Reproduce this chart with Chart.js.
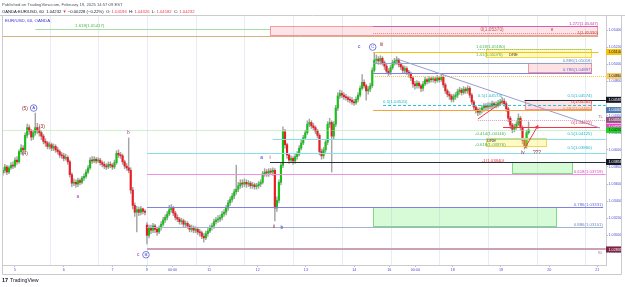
<!DOCTYPE html>
<html>
<head>
<meta charset="utf-8">
<title>EUR/USD 60 - OANDA</title>
<script src="https://cdn.jsdelivr.net/npm/chart.js@4.4.1/dist/chart.umd.min.js"></script>
<style>
  html, body { margin: 0; padding: 0; background: #fff; }
  canvas { display: block; }
</style>
</head>
<body>
<canvas id="chart" width="625" height="287"></canvas>
<script>
// hourly candles, weekends removed; hour 0 = Feb 5 00:00 (EST)
const firstHour = -6;

const opens = [
  1.0373,1.0376,1.0380,1.0374,1.0379,1.0382,1.0381,1.0388,1.0386,1.0398,
  1.0402,1.0400,1.0417,1.0426,1.0422,1.0415,1.0420,1.0426,1.0423,1.0420,
  1.0416,1.0410,1.0408,1.0404,1.0406,1.0402,1.0404,1.0400,1.0398,1.0394,
  1.0393,1.0390,1.0391,1.0386,1.0371,1.0361,1.0362,1.0360,1.0364,1.0362,
  1.0367,1.0369,1.0374,1.0379,1.0388,1.0387,1.0389,1.0387,1.0388,1.0385,
  1.0383,1.0381,1.0380,1.0383,1.0382,1.0380,1.0385,1.0396,1.0394,1.0393,
  1.0386,1.0381,1.0379,1.0376,1.0353,1.0335,1.0327,1.0330,1.0327,1.0331,
  1.0328,
  1.0312,1.0300,1.0309,1.0306,1.0311,1.0307,1.0304,1.0309,1.0313,1.0318,
  1.0321,1.0325,1.0330,1.0332,1.0326,1.0321,1.0319,1.0316,1.0317,1.0313,
  1.0314,1.0311,1.0307,1.0309,1.0306,1.0307,1.0304,1.0303,1.0299,1.0297,
  1.0302,1.0305,1.0309,1.0311,1.0316,1.0318,1.0319,1.0321,1.0325,1.0327,
  1.0332,1.0338,1.0342,1.0346,1.0351,1.0354,1.0358,1.0361,1.0360,1.0362,
  1.0360,1.0361,1.0358,1.0359,1.0357,1.0358,1.0360,1.0362,1.0372,1.0374,
  1.0373,1.0375,1.0374,1.0376,1.0332,1.0341,1.0362,1.0382,1.0421,1.0406,
  1.0394,1.0388,1.0390,1.0387,1.0392,1.0395,1.0402,1.0408,1.0414,1.0420,
  1.0430,1.0432,1.0428,1.0426,1.0422,1.0417,1.0398,1.0393,1.0400,1.0409,
  1.0430,1.0432,1.0416,1.0430,1.0449,1.0463,1.0466,1.0464,1.0462,1.0461,
  1.0459,1.0458,1.0456,1.0455,1.0459,1.0464,1.0472,1.0479,1.0475,1.0469,
  1.0471,1.0475,1.0493,1.0505,1.0506,1.0504,1.0507,1.0502,1.0498,1.0492,
  1.0491,1.0496,1.0502,1.0504,1.0505,1.0500,1.0497,1.0493,1.0495,1.0491,
  1.0489,1.0484,1.0477,1.0475,1.0478,1.0475,1.0472,1.0477,1.0482,1.0480,
  1.0483,1.0482,1.0483,1.0481,1.0484,1.0482,1.0485,1.0476,1.0469,1.0465,
  1.0463,1.0459,1.0462,1.0464,1.0468,1.0470,1.0467,1.0471,1.0469,1.0472,
  1.0464,1.0456,1.0450,1.0447,1.0444,1.0446,1.0449,1.0451,1.0450,1.0452,
  1.0451,1.0454,1.0452,1.0453,1.0455,1.0456,1.0457,1.0454,1.0448,1.0437,
  1.0429,1.0424,1.0427,1.0430,1.0437,1.0426,1.0411,1.0404,1.0420
];
const highs = [
  1.0379,1.0383,1.0382,1.0381,1.0385,1.0386,1.0391,1.0392,1.0400,1.0406,
  1.0405,1.0420,1.0430,1.0429,1.0424,1.0423,1.0443,1.0431,1.0427,1.0422,
  1.0418,1.0413,1.0410,1.0409,1.0408,1.0407,1.0406,1.0403,1.0400,1.0397,
  1.0396,1.0395,1.0393,1.0388,1.0373,1.0366,1.0365,1.0367,1.0366,1.0369,
  1.0372,1.0377,1.0382,1.0391,1.0392,1.0392,1.0391,1.0391,1.0390,1.0387,
  1.0386,1.0384,1.0386,1.0386,1.0384,1.0388,1.0399,1.0400,1.0397,1.0395,
  1.0388,1.0384,1.0414,1.0379,1.0356,1.0338,1.0334,1.0333,1.0334,1.0332,
  1.0330,
  1.0315,1.0312,1.0312,1.0314,1.0313,1.0309,1.0311,1.0316,1.0321,1.0324,
  1.0328,1.0335,1.0336,1.0334,1.0328,1.0324,1.0321,1.0320,1.0319,1.0317,
  1.0316,1.0313,1.0312,1.0311,1.0310,1.0309,1.0307,1.0305,1.0302,1.0305,
  1.0308,1.0312,1.0314,1.0319,1.0321,1.0323,1.0324,1.0328,1.0330,1.0335,
  1.0341,1.0345,1.0349,1.0354,1.0382,1.0362,1.0365,1.0365,1.0366,1.0365,
  1.0364,1.0363,1.0362,1.0361,1.0361,1.0363,1.0365,1.0375,1.0378,1.0377,
  1.0378,1.0378,1.0379,1.0378,1.0345,1.0365,1.0385,1.0427,1.0424,1.0408,
  1.0396,1.0393,1.0392,1.0395,1.0398,1.0405,1.0411,1.0417,1.0423,1.0434,
  1.0436,1.0434,1.0431,1.0428,1.0424,1.0419,1.0401,1.0403,1.0412,1.0433,
  1.0437,1.0434,1.0433,1.0452,1.0467,1.0470,1.0469,1.0467,1.0465,1.0463,
  1.0462,1.0461,1.0459,1.0462,1.0467,1.0475,1.0488,1.0482,1.0477,1.0474,
  1.0478,1.0496,1.0513,1.0511,1.0509,1.0510,1.0509,1.0504,1.0500,1.0495,
  1.0499,1.0505,1.0507,1.0509,1.0507,1.0502,1.0499,1.0498,1.0497,1.0493,
  1.0491,1.0486,1.0480,1.0481,1.0480,1.0477,1.0480,1.0485,1.0484,1.0486,
  1.0485,1.0486,1.0485,1.0487,1.0486,1.0489,1.0487,1.0478,1.0471,1.0468,
  1.0465,1.0465,1.0467,1.0471,1.0473,1.0472,1.0474,1.0473,1.0475,1.0474,
  1.0466,1.0458,1.0452,1.0449,1.0449,1.0452,1.0454,1.0454,1.0455,1.0455,
  1.0457,1.0456,1.0456,1.0458,1.0459,1.0461,1.0460,1.0456,1.0450,1.0439,
  1.0431,1.0430,1.0433,1.0442,1.0439,1.0428,1.0413,1.0423,1.04326
];
const lows = [
  1.0370,1.0373,1.0371,1.0372,1.0377,1.0378,1.0379,1.0383,1.0384,1.0395,
  1.0394,1.0398,1.0414,1.0418,1.0411,1.0412,1.0417,1.0419,1.0416,1.0412,
  1.0407,1.0404,1.0401,1.0401,1.0399,1.0399,1.0397,1.0395,1.0391,1.0390,
  1.0387,1.0388,1.0383,1.0368,1.0357,1.0358,1.0356,1.0357,1.0359,1.0360,
  1.0364,1.0367,1.0372,1.0377,1.0384,1.0385,1.0384,1.0385,1.0382,1.0380,
  1.0378,1.0377,1.0378,1.0379,1.0377,1.0378,1.0383,1.0391,1.0390,1.0383,
  1.0378,1.0376,1.0373,1.0349,1.0331,1.0322,1.0304,1.0323,1.0324,1.0325,
  1.0324,
  1.0290,1.0297,1.0302,1.0303,1.0303,1.0300,1.0302,1.0306,1.0311,1.0315,
  1.0318,1.0323,1.0327,1.0323,1.0318,1.0316,1.0313,1.0313,1.0310,1.0310,
  1.0308,1.0304,1.0304,1.0303,1.0303,1.0301,1.0299,1.0296,1.0292,1.0295,
  1.0299,1.0303,1.0306,1.0308,1.0313,1.0315,1.0316,1.0318,1.0322,1.0324,
  1.0329,1.0335,1.0339,1.0343,1.0348,1.0351,1.0355,1.0356,1.0357,1.0356,
  1.0357,1.0355,1.0355,1.0354,1.0354,1.0355,1.0357,1.0360,1.0369,1.0369,
  1.0369,1.0371,1.0370,1.0317,1.0328,1.0338,1.0359,1.0379,1.0402,1.0390,
  1.0384,1.0385,1.0383,1.0384,1.0389,1.0393,1.0400,1.0406,1.0412,1.0418,
  1.0427,1.0425,1.0423,1.0419,1.0414,1.0394,1.0389,1.0390,1.0397,1.0406,
  1.0426,1.0374,1.0413,1.0427,1.0446,1.0460,1.0461,1.0459,1.0458,1.0456,
  1.0455,1.0453,1.0452,1.0453,1.0456,1.0462,1.0470,1.0472,1.0458,1.0465,
  1.0468,1.0473,1.0491,1.0502,1.0500,1.0500,1.0499,1.0494,1.0489,1.0487,
  1.0488,1.0494,1.0499,1.0500,1.0497,1.0494,1.0490,1.0490,1.0488,1.0485,
  1.0481,1.0473,1.0471,1.0472,1.0472,1.0468,1.0469,1.0475,1.0477,1.0478,
  1.0479,1.0479,1.0478,1.0479,1.0479,1.0480,1.0473,1.0466,1.0462,1.0459,
  1.0456,1.0456,1.0459,1.0461,1.0465,1.0464,1.0465,1.0466,1.0466,1.0461,
  1.0453,1.0447,1.0443,1.0440,1.0441,1.0443,1.0445,1.0447,1.0446,1.0448,
  1.0448,1.0449,1.0449,1.0450,1.0452,1.0453,1.0451,1.0445,1.0433,1.0425,
  1.0420,1.0421,1.0424,1.0428,1.0423,1.0407,1.0401,1.0402,1.04182
];
const closes = [
  1.0376,1.0380,1.0374,1.0379,1.0382,1.0381,1.0388,1.0386,1.0398,1.0402,
  1.0400,1.0417,1.0426,1.0422,1.0415,1.0420,1.0426,1.0423,1.0420,1.0416,
  1.0410,1.0408,1.0404,1.0406,1.0402,1.0404,1.0400,1.0398,1.0394,1.0393,
  1.0390,1.0391,1.0386,1.0371,1.0361,1.0362,1.0360,1.0364,1.0362,1.0367,
  1.0369,1.0374,1.0379,1.0388,1.0387,1.0389,1.0387,1.0388,1.0385,1.0383,
  1.0381,1.0380,1.0383,1.0382,1.0380,1.0385,1.0396,1.0394,1.0393,1.0386,
  1.0381,1.0379,1.0376,1.0353,1.0335,1.0327,1.0330,1.0327,1.0331,1.0328,
  1.0327,
  1.0300,1.0309,1.0306,1.0311,1.0307,1.0304,1.0309,1.0313,1.0318,1.0321,
  1.0325,1.0330,1.0332,1.0326,1.0321,1.0319,1.0316,1.0317,1.0313,1.0314,
  1.0311,1.0307,1.0309,1.0306,1.0307,1.0304,1.0303,1.0299,1.0297,1.0302,
  1.0305,1.0309,1.0311,1.0316,1.0318,1.0319,1.0321,1.0325,1.0327,1.0332,
  1.0338,1.0342,1.0346,1.0351,1.0354,1.0358,1.0361,1.0360,1.0362,1.0360,
  1.0361,1.0358,1.0359,1.0357,1.0358,1.0360,1.0362,1.0372,1.0374,1.0373,
  1.0375,1.0374,1.0376,1.0332,1.0341,1.0362,1.0382,1.0421,1.0406,1.0394,
  1.0388,1.0390,1.0387,1.0392,1.0395,1.0402,1.0408,1.0414,1.0420,1.0430,
  1.0432,1.0428,1.0426,1.0422,1.0417,1.0398,1.0393,1.0400,1.0409,1.0430,
  1.0432,1.0416,1.0430,1.0449,1.0463,1.0466,1.0464,1.0462,1.0461,1.0459,
  1.0458,1.0456,1.0455,1.0459,1.0464,1.0472,1.0479,1.0475,1.0469,1.0471,
  1.0475,1.0493,1.0505,1.0506,1.0504,1.0507,1.0502,1.0498,1.0492,1.0490,
  1.0496,1.0502,1.0504,1.0505,1.0500,1.0497,1.0493,1.0495,1.0491,1.0489,
  1.0484,1.0477,1.0475,1.0478,1.0475,1.0472,1.0477,1.0482,1.0480,1.0483,
  1.0482,1.0483,1.0481,1.0484,1.0482,1.0485,1.0476,1.0469,1.0465,1.0463,
  1.0459,1.0462,1.0464,1.0468,1.0470,1.0467,1.0471,1.0469,1.0472,1.0464,
  1.0456,1.0450,1.0447,1.0444,1.0446,1.0449,1.0451,1.0450,1.0452,1.0451,
  1.0454,1.0452,1.0453,1.0455,1.0456,1.0457,1.0454,1.0448,1.0437,1.0429,
  1.0424,1.0427,1.0430,1.0437,1.0426,1.0411,1.0404,1.0420,1.04232
];

// axis labels
const dateTickHour = [0, 24, 48, 64.9, 77.6, 95.6, 119.6, 143.3, 167.1, 184.4, 197.2, 215.6, 239.4, 263.2, 286.8];
const dateTickText = ['5', '6', '7', '9', '00:00', '11', '12', '13', '14', '16', '00:00', '18', '19', '20', '21'];
const sessionGridHour = [17, 41, 65, 89, 113, 137, 161, 185, 209, 233, 257, 281];
const priceTicks = [1.028, 1.030, 1.032, 1.034, 1.036, 1.038, 1.040, 1.042, 1.044, 1.046, 1.048, 1.050, 1.052, 1.054];

// horizontal levels drawn on the chart
const levelPrice = [1.05417, 1.05330, 1.05447, 1.05370, 1.05180, 1.05144, 1.05018, 1.04897, 1.04864, 1.04520,
                    1.04585, 1.04465, 1.04350, 1.04272, 1.04232, 1.04125, 1.03960, 1.03858, 1.03719, 1.03331,
                    1.03101, 1.02835];
const levelFrom  = [10, -6.2, 176.4, 176.4, 228, 176.4, 176.4, 176.4, 176.4, 181.3,
                    251, 176.4, 228, 240.4, -6.2, 127, 65, 125.6, 65, 65,
                    65, 65];
const levelTo    = [125.6, 287.2, 287.2, 287.2, 284.2, 287.5, 284.2, 284.2, 291, 291,
                    291, 284.2, 291, 288, 291, 291, 291, 291, 291, 289.7,
                    289.7, 291];

// zones: from hour, to hour, top price, bottom price
const boxFrom   = [125.6, 232, 252.7, 251, 232, 244.8, 176.4];
const boxTo     = [287.2, 284.2, 284.2, 284.2, 262, 274.9, 267];
const boxTop    = [1.05447, 1.05180, 1.05018, 1.04585, 1.04141, 1.03858, 1.03331];
const boxBottom = [1.05330, 1.05076, 1.04897, 1.04465, 1.04036, 1.03719, 1.03101];

// sloped lines: trend line and the projected path
const segHourA  = [188.2, 228, 251.2];
const segPriceA = [1.05062, 1.04360, 1.04021];
const segHourB  = [288.2, 240.4, 257.6];
const segPriceB = [1.04255, 1.04565, 1.04284];

// text on the chart
const noteText  = ['1.618(1.05417)', '1.272(1.05447)', '0(1.05370)', 'v', '1(1.05330)', '1.618(1.05180)', '1.41(1.05076)', 'DRE',
                   '0.886(1.05018)', '0.786(1.04897)', '0.5(1.04574)', '0.5(1.04574)', '0.5(1.04520)', '0(1.04585)', '0.382(1.04465)', 'TL',
                   '0(1.04272)', '0.5(1.04125)', '-0.414(1.04146)', 'DRE', '-0.618(1.03976)', '0.5(1.03960)', '-1(1.03840)',
                   '0.618(1.03719)', '0.786(1.03331)', '0.886(1.03101)', 'SL',
                   '(5)', '(3)', '(4)', 'b', 'a', 'c', 'a', 'i', 'ii', 'b', 'c', 'iii', 'iv', '???'];
const noteHour  = [29.6, 287.2, 235, 264.5, 287.2, 227.1, 227.1, 243.3,
                   284.2, 284.2, 228, 284.2, 181.3, 284.2, 284.2, 289.6,
                   284.2, 284.2, 226.6, 232.5, 226.6, 284.2, 230,
                   289.6, 289.6, 289.6, 289.6,
                   4.9, 13.2, 4.9, 55.8, 30.9, 60.7, 121.5, 125.6, 127.6, 131.4, 169.6, 180.6, 250.2, 257.1];
const notePrice = [1.05448, 1.05477, 1.05407, 1.05401, 1.05366, 1.05206, 1.05109, 1.05109,
                   1.05039, 1.04933, 1.04629, 1.04629, 1.04559, 1.04565, 1.04483, 1.04384,
                   1.04313, 1.04185, 1.04185, 1.04109, 1.04062, 1.04021, 1.03875,
                   1.03746, 1.03354, 1.03120, 1.02799,
                   1.04485, 1.04270, 1.03959, 1.04196, 1.03451, 1.02773, 1.03908, 1.03912, 1.03097, 1.03093, 1.05202, 1.05226, 1.03963, 1.03963];
const circleText  = ['A', 'B', 'C'];
const circleHour  = [9.2, 64.5, 176.2];
const circlePrice = [1.04489, 1.02773, 1.05202];

// price tags on the right scale
const tagPrice = [1.05144, 1.04864, 1.04585, 1.04465, 1.04350, 1.04272, 1.04232, 1.03858, 1.02835];
const tagText  = ['1.05144', '1.04864', '1.04585', '1.04465', '1.04350', '1.04272', '1.04232', '1.03858', '1.02835'];

// ---------------- styles ----------------
const FONT = '"Liberation Sans", Arial, sans-serif';
const UP = '#19c019', DOWN = '#ea1c24', WICK = '#a4a4a4';
const AXIS_TEXT = '#4c4cd2';

const levelStyle = [
  { c: '#a6dfa6' }, { c: '#d3b27f' }, { c: '#d35db8' }, { c: '#e58a8a', dash: [1, 1] },
  { c: '#7ccf7c', dash: [1, 1] }, { c: '#f4c20d' }, { c: '#8da4c9' }, { c: '#8181e2' },
  { c: '#f2c14e', dash: [1, 1] }, { c: '#28c4d8', dash: [3, 2] }, { c: '#1e222d' }, { c: '#f4a340' },
  { c: '#d9a2b8', dash: [1, 1] }, { c: '#f23645' }, { c: '#9fe39f', dash: [1, 1] }, { c: '#86dfe9' },
  { c: '#86dfe9' }, { c: '#2a2e39' }, { c: '#f28fe1' }, { c: '#8181e2' },
  { c: '#9fb4d0' }, { c: '#caa2b3', w: 2 }
];
const boxStyle = [
  { fill: 'rgba(242,54,69,0.13)', line: 'rgba(242,54,69,0.45)' },
  { fill: 'rgba(255,235,59,0.30)', line: '#f2d64b' },
  { fill: 'rgba(242,54,69,0.15)', line: 'rgba(242,54,69,0.45)' },
  { fill: 'rgba(242,54,69,0.15)', line: 'rgba(242,54,69,0.45)' },
  { fill: 'rgba(255,235,59,0.30)', line: '#f2d64b' },
  { fill: 'rgba(140,240,140,0.35)', line: '#83d883' },
  { fill: 'rgba(140,240,140,0.35)', line: '#83d883' }
];
const segStyle = [{ c: '#9b9bd2' }, { c: '#f23645' }, { c: '#f23645', arrow: true }];
const noteKind = {
  greenL: ['#4caf50', 'left'], magR: ['#c2409c', 'right'], redC: ['#c65858', 'center'], drC: ['#8b1c1c', 'center'],
  brownR: ['#b84a3a', 'right'], darkL: ['#3a3a3a', 'left'], steelR: ['#6f84bb', 'right'], violetR: ['#6767d6', 'right'],
  cyanL: ['#1fb3c6', 'left'], cyanR: ['#1fb3c6', 'right'], redR: ['#e0303e', 'right'], orangeR: ['#e39434', 'right'],
  grayR: ['#787b86', 'right'], redL: ['#e0303e', 'left'], pinkR: ['#e040c0', 'right'], mauveR: ['#b08293', 'right'],
  wave: ['#8b1c1c', 'center'], purple: ['#b02fb0', 'center'], blue: ['#3434c8', 'center']
};
const noteStyle = ['greenL', 'magR', 'redC', 'drC', 'brownR', 'greenL', 'greenL', 'darkL',
                   'steelR', 'violetR', 'cyanL', 'cyanR', 'cyanL', 'redR', 'orangeR', 'grayR',
                   'redR', 'cyanR', 'greenL', 'darkL', 'greenL', 'cyanR', 'redL',
                   'pinkR', 'violetR', 'steelR', 'mauveR',
                   'wave', 'wave', 'wave', 'purple', 'purple', 'purple', 'blue', 'wave', 'wave', 'blue', 'blue', 'wave', 'wave', 'wave'];
const tagStyle = [
  ['#f5c20f', '#131722'], ['#f7cd70', '#131722'], ['#131722', '#fff'], ['#4c7bb4', '#fff'], ['#8c5479', '#fff'],
  ['#f53dd8', '#fff'], ['#22d322', '#131722'], ['#131722', '#fff'], ['#7e2443', '#fff']
];

const candles = closes.map((c, k) => ({ x: firstHour + k, o: opens[k], h: highs[k], l: lows[k], c }));

const drawings = {
  id: 'drawings',
  beforeDatasetsDraw(chart) {
    const { ctx, chartArea: a, scales: { x } } = chart;
    ctx.save();
    ctx.strokeStyle = '#e6edf7';
    ctx.lineWidth = 1;
    sessionGridHour.forEach(h => {
      const px = Math.round(x.getPixelForValue(h)) + 0.5;
      ctx.beginPath(); ctx.moveTo(px, a.top); ctx.lineTo(px, a.bottom); ctx.stroke();
    });
    ctx.restore();
  },
  afterDatasetsDraw(chart) {
    const { ctx, chartArea: a, scales: { x, y } } = chart;
    ctx.save();
    ctx.beginPath(); ctx.rect(a.left, a.top, a.right - a.left, a.bottom - a.top); ctx.clip();

    boxFrom.forEach((f, k) => {
      const x0 = x.getPixelForValue(f), x1 = x.getPixelForValue(boxTo[k]);
      const y0 = y.getPixelForValue(boxTop[k]), y1 = y.getPixelForValue(boxBottom[k]);
      ctx.fillStyle = boxStyle[k].fill;
      ctx.fillRect(x0, y0, x1 - x0, y1 - y0);
      ctx.strokeStyle = boxStyle[k].line; ctx.lineWidth = 1;
      ctx.strokeRect(Math.round(x0) + 0.5, Math.round(y0) + 0.5, Math.round(x1 - x0) - 1, Math.round(y1 - y0) - 1);
    });

    levelPrice.forEach((p, k) => {
      const st = levelStyle[k], w = st.w || 1;
      const py = Math.round(y.getPixelForValue(p)) + (w % 2 ? 0.5 : 0);
      ctx.strokeStyle = st.c; ctx.lineWidth = w; ctx.setLineDash(st.dash || []);
      ctx.beginPath();
      ctx.moveTo(x.getPixelForValue(levelFrom[k]), py);
      ctx.lineTo(x.getPixelForValue(levelTo[k]), py);
      ctx.stroke();
    });
    ctx.setLineDash([]);

    segHourA.forEach((h, k) => {
      const x0 = x.getPixelForValue(h), y0 = y.getPixelForValue(segPriceA[k]);
      const x1 = x.getPixelForValue(segHourB[k]), y1 = y.getPixelForValue(segPriceB[k]);
      ctx.strokeStyle = segStyle[k].c; ctx.lineWidth = 1;
      ctx.beginPath(); ctx.moveTo(x0, y0); ctx.lineTo(x1, y1); ctx.stroke();
      if (segStyle[k].arrow) {
        const ang = Math.atan2(y1 - y0, x1 - x0);
        ctx.beginPath();
        ctx.moveTo(x1 - 3.5 * Math.cos(ang - 0.5), y1 - 3.5 * Math.sin(ang - 0.5));
        ctx.lineTo(x1, y1);
        ctx.lineTo(x1 - 3.5 * Math.cos(ang + 0.5), y1 - 3.5 * Math.sin(ang + 0.5));
        ctx.stroke();
      }
    });

    ctx.textBaseline = 'middle';
    noteText.forEach((t, k) => {
      const [color, align] = noteKind[noteStyle[k]];
      const wave = align === 'center';
      ctx.font = (wave ? '4.8px ' : '4.3px ') + FONT;
      ctx.fillStyle = color; ctx.textAlign = align;
      ctx.fillText(t, x.getPixelForValue(noteHour[k]), y.getPixelForValue(notePrice[k]));
    });

    circleText.forEach((t, k) => {
      const cx = x.getPixelForValue(circleHour[k]), cy = y.getPixelForValue(circlePrice[k]);
      ctx.strokeStyle = '#5b5bd8'; ctx.lineWidth = 0.8;
      ctx.beginPath(); ctx.arc(cx, cy, 3.3, 0, Math.PI * 2); ctx.stroke();
      ctx.fillStyle = '#4040d0'; ctx.textAlign = 'center'; ctx.font = '4.3px ' + FONT;
      ctx.fillText(t, cx, cy + 0.2);
    });
    ctx.restore();
  },
  afterDraw(chart) {
    const { ctx, scales: { y } } = chart;
    ctx.save();
    // price tags on the scale
    ctx.textBaseline = 'middle'; ctx.textAlign = 'left';
    ctx.font = '3.7px ' + FONT;
    tagPrice.forEach((p, k) => {
      const py = y.getPixelForValue(p);
      ctx.fillStyle = tagStyle[k][0];
      ctx.fillRect(606, py - 3, 16, 6);
      ctx.fillStyle = tagStyle[k][1];
      ctx.fillText(tagText[k], 608.5, py + 0.2);
    });

    // frame
    ctx.strokeStyle = '#c9cbd1'; ctx.lineWidth = 1;
    ctx.beginPath();
    ctx.moveTo(0, 15.5); ctx.lineTo(625, 15.5);
    ctx.moveTo(2.5, 15.5); ctx.lineTo(2.5, 274.5); ctx.lineTo(621.5, 274.5); ctx.lineTo(621.5, 15.5);
    ctx.stroke();

    // header
    ctx.textAlign = 'left';
    ctx.font = '4.2px ' + FONT;
    ctx.fillStyle = '#50535e';
    ctx.fillText('Published on TradingView.com, February 19, 2025 14:57:09 EST', 2, 4.5);
    const parts = [
      ['OANDA:EUR/USD, 60  1.04232 ', '#131722'], ['▼ ', '#f23645'], ['−0.00228 (−0.22%)  O: ', '#131722'],
      ['1.04196', '#f23645'], ['  H: ', '#131722'], ['1.04326', '#f23645'], ['  L: ', '#131722'],
      ['1.04182', '#f23645'], ['  C: ', '#131722'], ['1.04232', '#f23645']
    ];
    let cx = 2;
    parts.forEach(([t, c]) => { ctx.fillStyle = c; ctx.fillText(t, cx, 11.5); cx += ctx.measureText(t).width; });
    ctx.font = '4.4px ' + FONT;
    ctx.fillStyle = '#3434d0';
    ctx.fillText('EUR/USD, 60, OANDA', 5, 20.5);

    // footer
    ctx.fillStyle = '#131722';
    ctx.font = 'bold 5.5px ' + FONT;
    ctx.fillText('17', 2, 280.5);
    ctx.font = '5.2px ' + FONT;
    ctx.fillText('TradingView', 10, 280.5);
    ctx.restore();
  }
};

new Chart(document.getElementById('chart'), {
  type: 'bar',
  data: {
    datasets: [
      {
        label: 'body',
        data: candles.map(b => ({ x: b.x, y: [b.o, b.c] })),
        backgroundColor: candles.map(b => b.c >= b.o ? UP : DOWN),
        barThickness: 1.5,
        minBarLength: 1,
        grouped: false,
        order: 1
      },
      {
        label: 'wick',
        data: candles.map(b => ({ x: b.x, y: [b.l, b.h] })),
        backgroundColor: WICK,
        barThickness: 0.8,
        grouped: false,
        order: 2
      }
    ]
  },
  options: {
    responsive: false,
    animation: false,
    events: [],
    layout: { padding: { left: 3, right: 3, top: 15, bottom: 13 } },
    plugins: { legend: { display: false }, tooltip: { enabled: false } },
    scales: {
      x: {
        type: 'linear',
        min: -5.91,
        max: 291.13,
        offset: false,
        afterBuildTicks: s => { s.ticks = dateTickHour.map(v => ({ value: v })); },
        afterFit: s => { s.height = 9; },
        grid: { drawOnChartArea: false, offset: false, tickLength: 2, tickColor: '#b9bcc6' },
        border: { color: '#c9cbd1' },
        ticks: {
          autoSkip: false, maxRotation: 0, padding: 0.5, color: AXIS_TEXT,
          font: { size: 3.7, family: FONT },
          callback: (v, i) => dateTickText[i]
        }
      },
      y: {
        position: 'right',
        min: 1.02653,
        max: 1.05577,
        afterBuildTicks: s => { s.ticks = priceTicks.map(v => ({ value: v })); },
        afterFit: s => { s.width = 16; },
        grid: { drawOnChartArea: false, tickLength: 2, tickColor: '#b9bcc6' },
        border: { color: '#c9cbd1' },
        ticks: {
          padding: 0.5, color: AXIS_TEXT,
          font: { size: 3.7, family: FONT },
          callback: v => v.toFixed(5)
        }
      }
    }
  },
  plugins: [drawings]
});
</script>
</body>
</html>
